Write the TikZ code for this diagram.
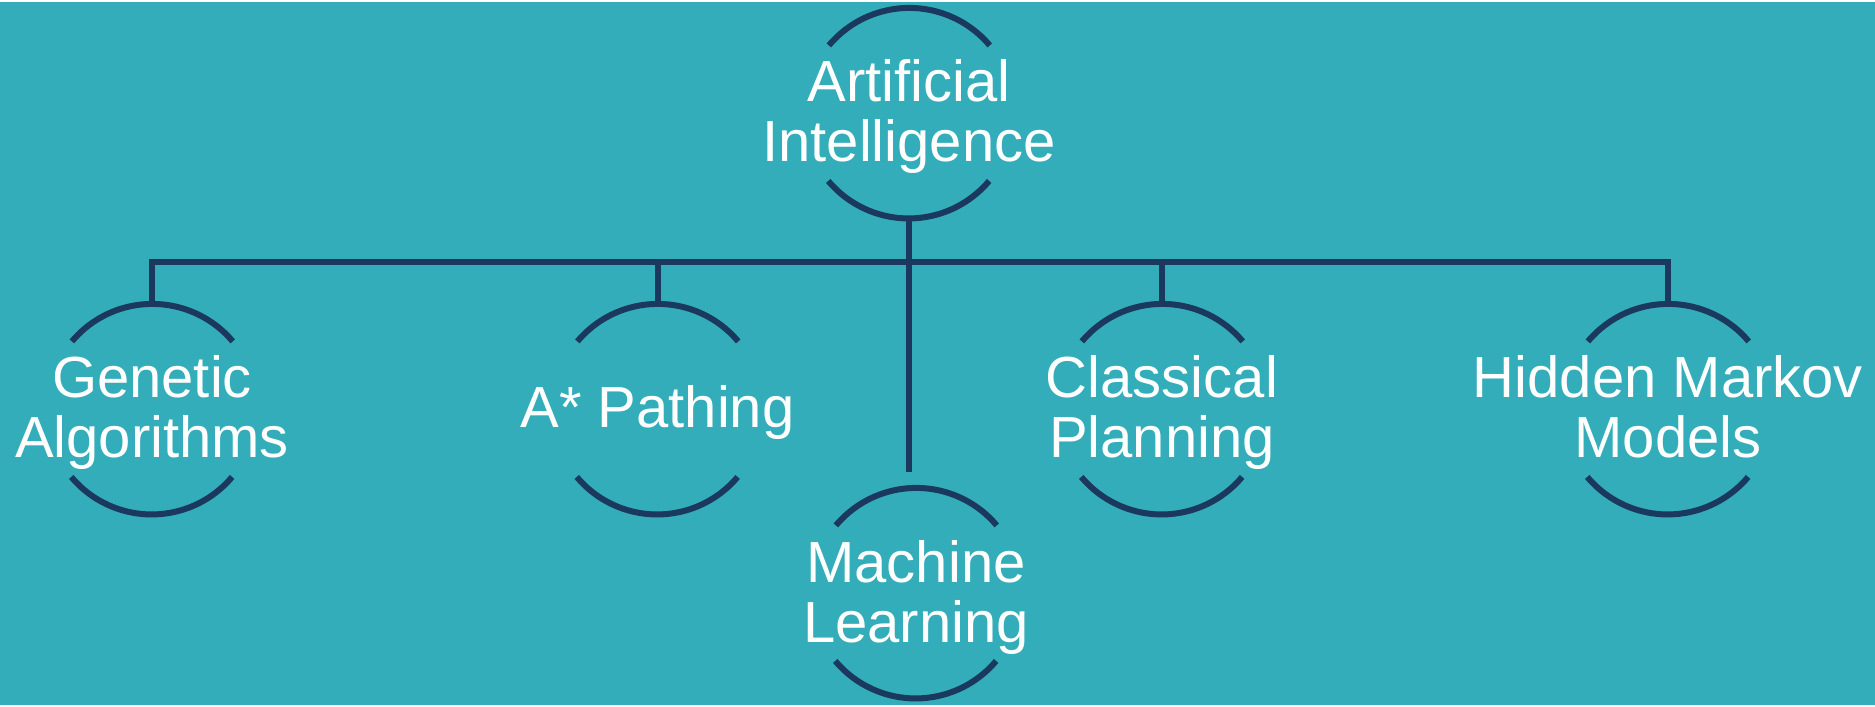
\documentclass[tikz,border=0pt]{standalone}
\usepackage{fontspec}
\setmainfont{Liberation Sans}
\usepackage{xcolor}
\definecolor{bgteal}{HTML}{33ADB9}
\definecolor{linenavy}{HTML}{1B385E}

\begin{document}
\begin{tikzpicture}[x=0.5pt,y=-0.5pt]
		\tikzstyle{ring}=[circle, minimum size=105pt, inner sep=0pt]
		\tikzstyle{lbl}=[text=white, align=center, inner sep=0pt, text depth=0.22em, font=\fontsize{29}{30}\selectfont]
		\tikzstyle{wire}=[linenavy, line width=3pt]
		\fill [bgteal] (0,0) rectangle (1875,703);
		\node [ring] (ai) at (909,111.5) {};
		\node [ring] (ga) at (152,407.5) {};
		\node [ring] (ap) at (657.5,407.5) {};
		\node [ring] (ml) at (916,591.5) {};
		\node [ring] (cp) at (1162,407.5) {};
		\node [ring] (hm) at (1668,407.5) {};
		\node [lbl] (ailbl) at (ai) {Artificial\\Intelligence};
		\node [lbl] (galbl) at (ga) {Genetic\\Algorithms};
		\node [lbl] (aplbl) at (ap) {A* Pathing};
		\node [lbl] (mllbl) at (ml) {Machine\\Learning};
		\node [lbl] (cplbl) at (cp) {Classical\\Planning};
		\node [lbl] (hmlbl) at (hm) {Hidden Markov\\Models};
		\foreach \n in {ai,ga,ap,ml,cp,hm}
		{
			\draw [wire] (\n.40) arc (40:140:52.5pt);
			\draw [wire] (\n.220) arc (220:320:52.5pt);
		}
		\coordinate (bus) at (0,260);
		\coordinate (mltop) at ([yshift=7.75pt]ml.north);
		\draw [wire] (ga.north) -- (ga.north |- bus) -- (hm.north |- bus) -- (hm.north);
		\draw [wire] (ai.south) -- (ai.south |- mltop);
		\draw [wire] (ap.north) -- (ap.north |- bus);
		\draw [wire] (cp.north) -- (cp.north |- bus);
	\end{tikzpicture}
\end{document}
